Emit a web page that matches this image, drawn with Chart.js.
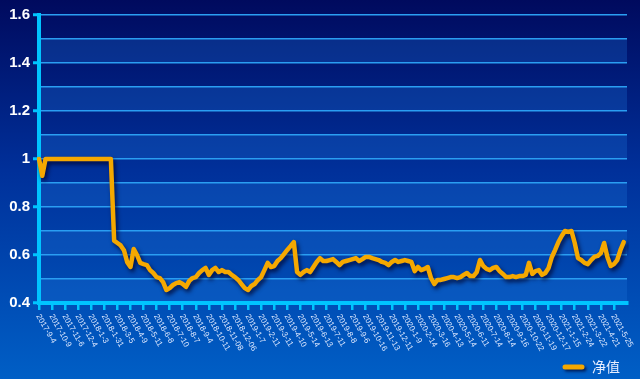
<!DOCTYPE html>
<html><head><meta charset="utf-8">
<script src="https://cdn.jsdelivr.net/npm/chart.js@4.4.1/dist/chart.umd.min.js"></script>
<style>html,body{margin:0;padding:0;background:#000a60;}canvas{display:block}</style>
</head><body>
<canvas id="c" width="640" height="379"></canvas>
<script>
// ---- data ----
const tickDates = ['2017-9-4','2017-10-9','2017-11-6','2017-12-4','2018-1-3','2018-1-31','2018-3-5','2018-4-9','2018-5-11','2018-6-8','2018-7-10','2018-8-7','2018-9-4','2018-10-11','2018-11-08','2018-12-06','2019-1-7','2019-2-11','2019-3-11','2019-4-10','2019-5-14','2019-6-13','2019-7-11','2019-8-8','2019-9-6','2019-10-16','2019-11-13','2019-12-11','2020-1-9','2020-2-14','2020-3-16','2020-4-13','2020-5-14','2020-6-11','2020-7-14','2020-8-14','2020-9-16','2020-10-22','2020-11-19','2020-12-17','2021-1-15','2021-2-24','2021-3-22','2021-4-21','2021-5-25'];
const seriesName = '净值';
const navValues = [
 1.0,0.93,1.0,1.0,1.0,1.0,1.0,1.0,1.0,1.0,
 1.0,1.0,1.0,1.0,1.0,1.0,1.0,1.0,1.0,1.0,
 1.0,1.0,1.0,0.66,0.65,0.64,0.62,0.57,0.55,0.625,
 0.60,0.567,0.562,0.558,0.537,0.525,0.508,0.504,0.487,0.454,
 0.462,0.475,0.483,0.487,0.479,0.467,0.492,0.504,0.508,0.525,
 0.537,0.546,0.517,0.537,0.546,0.529,0.537,0.529,0.529,0.517,
 0.508,0.496,0.479,0.462,0.454,0.471,0.479,0.496,0.508,0.537,
 0.567,0.55,0.554,0.575,0.587,0.604,0.621,0.637,0.654,0.529,
 0.517,0.529,0.537,0.529,0.55,0.571,0.587,0.575,0.575,0.579,
 0.583,0.571,0.558,0.571,0.575,0.579,0.583,0.587,0.575,0.583,
 0.592,0.592,0.587,0.583,0.579,0.571,0.567,0.558,0.571,0.579,
 0.571,0.575,0.579,0.575,0.571,0.533,0.55,0.537,0.542,0.55,
 0.504,0.479,0.496,0.496,0.50,0.504,0.508,0.508,0.504,0.508,
 0.517,0.525,0.512,0.512,0.529,0.579,0.554,0.542,0.537,0.546,
 0.55,0.533,0.521,0.508,0.508,0.512,0.508,0.512,0.512,0.517,
 0.567,0.521,0.533,0.537,0.517,0.525,0.546,0.592,0.621,0.654,
 0.679,0.70,0.696,0.70,0.65,0.587,0.579,0.567,0.562,0.579,
 0.592,0.596,0.608,0.65,0.592,0.554,0.562,0.579,0.621,0.654
];
const yTickLabels = ['1.6','1.4','1.2','1','0.8','0.6','0.4'];
const yMin = 0.4, yMax = 1.6, yStep = 0.1;
const pointsPerTick = 4;

// ---- build category labels ----
const totalSlots = tickDates.length * pointsPerTick + 1;
const categories = [];
for (let i = 0; i < totalSlots; i++) {
  categories.push(i % pointsPerTick === 0 && tickDates[i / pointsPerTick] ? tickDates[i / pointsPerTick] : '');
}

const CYAN = '#00c4ff';
const GRID = '#2a9ef2';
const LINE = '#f5a800';

const bgPlugin = {
  id: 'bg',
  beforeDraw(chart) {
    const {ctx, width, height, chartArea} = chart;
    const y = chart.scales.y;
    ctx.save();
    const g = ctx.createLinearGradient(0, 0, 0, height);
    g.addColorStop(0, '#000a5e');
    g.addColorStop(0.45, '#00309a');
    g.addColorStop(1, '#005fc6');
    ctx.fillStyle = g;
    ctx.fillRect(0, 0, width, height);
    const n = Math.round((yMax - yMin) / yStep);
    for (let k = 0; k < n; k++) {
      if (k % 2 !== 0) continue;
      const lo = y.getPixelForValue(yMin + k * yStep);
      const hi = y.getPixelForValue(yMin + (k + 1) * yStep);
      ctx.fillStyle = 'rgba(30,120,220,0.28)';
      ctx.fillRect(chartArea.left, hi, chartArea.right - chartArea.left, lo - hi);
    }
    ctx.restore();
  },
  beforeDatasetDraw(chart) {
    const ctx = chart.ctx;
    ctx.save();
    ctx.shadowColor = 'rgba(0,0,40,0.75)';
    ctx.shadowBlur = 4;
    ctx.shadowOffsetX = 2;
    ctx.shadowOffsetY = 3;
  },
  afterDatasetDraw(chart) {
    chart.ctx.restore();
  },
  afterDraw(chart) {
    const {ctx} = chart;
    const xs = chart.scales.x;
    ctx.save();
    ctx.fillStyle = '#dce8ff';
    ctx.font = '8px "Liberation Sans", Arial, sans-serif';
    ctx.textAlign = 'left';
    ctx.textBaseline = 'middle';
    categories.forEach((lab, i) => {
      if (!lab) return;
      const x = xs.getPixelForValue(i);
      ctx.save();
      ctx.translate(x - 1, xs.top + 12);
      ctx.rotate(Math.PI / 3);
      ctx.fillText(lab, 0, 0);
      ctx.restore();
    });
    // legend
    const ds = chart.data.datasets[0];
    const lx = chart.width - 75, ly = chart.height - 12;
    ctx.save();
    ctx.shadowColor = 'rgba(0,0,40,0.7)';
    ctx.shadowBlur = 3; ctx.shadowOffsetX = 2; ctx.shadowOffsetY = 2;
    ctx.strokeStyle = ds.borderColor;
    ctx.lineWidth = 5;
    ctx.lineCap = 'round';
    ctx.beginPath();
    ctx.moveTo(lx, ly); ctx.lineTo(lx + 17, ly);
    ctx.stroke();
    ctx.restore();
    ctx.fillStyle = '#e6eeff';
    ctx.font = '14px "Noto Sans CJK SC", sans-serif';
    ctx.textBaseline = 'middle';
    ctx.fillText(ds.label, lx + 27, ly);
    ctx.restore();
  }
};

new Chart(document.getElementById('c'), {
  type: 'line',
  data: {
    labels: categories,
    datasets: [{
      label: seriesName,
      data: navValues,
      borderColor: LINE,
      borderWidth: 4.5,
      pointRadius: 0,
      tension: 0,
      borderJoinStyle: 'round',
      borderCapStyle: 'round',
      fill: false
    }]
  },
  options: {
    responsive: false,
    animation: false,
    devicePixelRatio: 1,
    layout: {padding: {top: 15, right: 13, left: 0, bottom: 0}},
    plugins: {legend: {display: false}, tooltip: {enabled: false}},
    scales: {
      x: {
        type: 'category',
        offset: false,
        afterFit(s) { s.height = 76; },
        ticks: {display: false, autoSkip: false},
        grid: {
          drawOnChartArea: false,
          drawTicks: true,
          tickLength: 7,
          lineWidth: 2.5,
          tickColor: c => (c.index % pointsPerTick === 0 && categories[c.index]) ? CYAN : 'rgba(0,0,0,0)'
        },
        border: {color: CYAN, width: 4}
      },
      y: {
        min: yMin, max: yMax,
        afterFit(s) { s.width = 39; },
        ticks: {
          stepSize: yStep,
          padding: 3,
          color: '#ffffff',
          font: {family: '"Liberation Sans", Arial, sans-serif', size: 15, weight: 'bold'},
          callback: v => {
            const s = String(Math.round(v * 10) / 10);
            return yTickLabels.includes(s) ? s : '';
          }
        },
        grid: {
          color: GRID,
          lineWidth: 1.5,
          tickLength: 6,
          tickWidth: 3,
          tickColor: c => {
            const s = String(Math.round(c.tick.value * 10) / 10);
            return yTickLabels.includes(s) ? CYAN : 'rgba(0,0,0,0)';
          }
        },
        border: {color: CYAN, width: 4}
      }
    }
  },
  plugins: [bgPlugin]
});
</script>
</body></html>
